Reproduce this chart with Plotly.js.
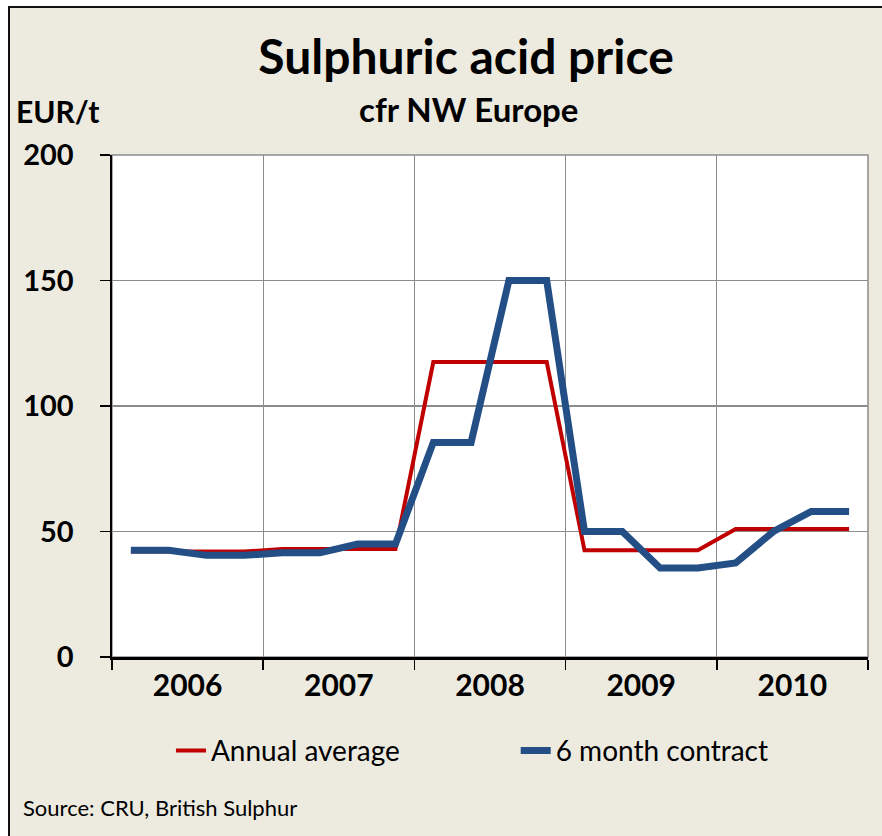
<!DOCTYPE html>
<html>
<head>
<meta charset="utf-8">
<script src="https://cdn.plot.ly/plotly-3.0.1.min.js"></script>
<style>
  html, body { margin: 0; padding: 0; background: #ffffff; width: 882px; height: 836px; overflow: hidden; }
  #frame { position: absolute; left: 8px; top: 6px; width: 874px; height: 830px; border-left: 2px solid #111; border-top: 2px solid #111; background: #EDEAE0; }
  #chart { position: absolute; left: 10px; top: 8px; width: 872px; height: 828px; }
</style>
</head>
<body>
<div id="frame"></div>
<div id="chart"></div>
<script>
// Quarterly observations, 2006 Q1 .. 2010 Q4
const years = ["2006", "2007", "2008", "2009", "2010"];
const quartersPerYear = 4;
const annualAverage = [42, 42, 42, 42, 43, 43, 43, 43, 117.5, 117.5, 117.5, 117.5, 42.5, 42.5, 42.5, 42.5, 51, 51, 51, 51];
const sixMonthContract = [42.5, 42.5, 40.5, 40.5, 41.5, 41.5, 45, 45, 85.5, 85.5, 150, 150, 50, 50, 35.5, 35.5, 37.5, 50, 58, 58];
const yTicks = [0, 50, 100, 150, 200];

const xPos = annualAverage.map((_, i) => i + 0.5);
const yearCenters = years.map((_, i) => i * quartersPerYear + quartersPerYear / 2);
const yearBounds = [];
for (let i = 0; i <= years.length; i++) yearBounds.push(i * quartersPerYear);

const FONT = "Lato, 'Open Sans', sans-serif";

const traces = [
  { x: xPos, y: annualAverage, name: "Annual average", type: "scatter", mode: "lines",
    line: { color: "#C00000", width: 4 }, legend: "legend" },
  { x: xPos, y: sixMonthContract, name: "6 month contract", type: "scatter", mode: "lines",
    line: { color: "#234F86", width: 7 }, legend: "legend2" }
];

const legendFont = { size: 28, family: FONT, color: "#000" };

const layout = {
  width: 872, height: 828,
  margin: { l: 102, r: 14, t: 147, b: 179 },
  paper_bgcolor: "#EDEAE0",
  plot_bgcolor: "#ffffff",
  font: { family: FONT, color: "#000" },
  title: { text: "<b>Sulphuric acid price</b>", font: { size: 48, family: FONT, color: "#000" },
           x: 0.523, xanchor: "center", y: 0.94, yanchor: "middle" },
  showlegend: true,
  legend: { orientation: "h", x: 0.078, y: -0.137, xanchor: "left", yanchor: "top",
            font: legendFont, bgcolor: "rgba(0,0,0,0)" },
  legend2: { orientation: "h", x: 0.534, y: -0.137, xanchor: "left", yanchor: "top",
            font: legendFont, bgcolor: "rgba(0,0,0,0)" },
  xaxis: {
    range: [0, 20], fixedrange: true,
    tickmode: "array", tickvals: yearCenters, ticktext: years.map(y => "<b>" + y + "</b>"),
    ticks: "", showgrid: false, zeroline: false,
    tickfont: { size: 30, family: FONT, color: "#000" },
    showline: true, linecolor: "#000", linewidth: 2.5,
    minor: { tickmode: "array", tickvals: yearBounds, ticks: "outside", ticklen: 10, tickwidth: 1.5,
             tickcolor: "#000", showgrid: true, gridcolor: "#8c8c8c", gridwidth: 1.2 }
  },
  yaxis: {
    range: [0, 200], fixedrange: true,
    tickmode: "array", tickvals: yTicks, ticktext: yTicks.map(v => "<b>" + v + "</b>"),
    ticks: "outside", ticklen: 10, tickwidth: 1.5, tickcolor: "#000",
    ticklabelstandoff: 20,
    showgrid: true, gridcolor: "#8c8c8c", gridwidth: 1.2, zeroline: false,
    tickfont: { size: 29, family: FONT, color: "#000" },
    showline: true, linecolor: "#000", linewidth: 2.5
  },
  shapes: [
    { type: "rect", xref: "paper", yref: "paper", x0: 0, x1: 1, y0: 0, y1: 1,
      line: { color: "#8c8c8c", width: 1.5 }, layer: "below" }
  ],
  annotations: [
    { text: "<b>cfr NW Europe</b>", xref: "paper", yref: "paper", x: 0.471, y: 1.092,
      xanchor: "center", yanchor: "middle", showarrow: false, font: { size: 33, family: FONT, color: "#000" } },
    { text: "<b>EUR/t</b>", xref: "paper", yref: "paper", x: -0.13, y: 1.087,
      xanchor: "left", yanchor: "middle", showarrow: false, font: { size: 30, family: FONT, color: "#000" } },
    { text: "Source: CRU, British Sulphur", xref: "paper", yref: "paper", x: -0.12, y: -0.3,
      xanchor: "left", yanchor: "middle", showarrow: false, font: { size: 22, family: FONT, color: "#000" } }
  ]
};

Plotly.newPlot("chart", traces, layout, { displayModeBar: false, staticPlot: true });
</script>
</body>
</html>
